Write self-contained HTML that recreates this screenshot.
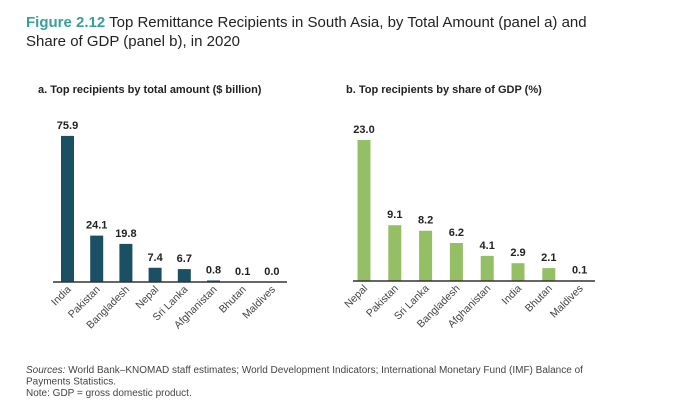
<!DOCTYPE html>
<html><head><meta charset="utf-8"><style>
body{margin:0;background:#fff;}
svg{display:block;font-family:"Liberation Sans",sans-serif;}
</style></head><body>
<svg width="690" height="411" viewBox="0 0 690 411">
<text x="26" y="27" font-size="15" fill="#222"><tspan font-weight="bold" fill="#3a9f9a">Figure 2.12</tspan> Top Remittance Recipients in South Asia, by Total Amount (panel a) and</text>
<text x="26" y="46" font-size="15" fill="#222">Share of GDP (panel b), in 2020</text>
<text x="38" y="93" font-size="11" font-weight="bold" fill="#222">a. Top recipients by total amount ($ billion)</text>
<text x="346" y="93" font-size="11" font-weight="bold" fill="#222">b. Top recipients by share of GDP (%)</text>
<g id="pa"></g>
<g id="pb"></g>
<text x="26" y="373" font-size="10" fill="#444"><tspan font-style="italic">Sources:</tspan> World Bank–KNOMAD staff estimates; World Development Indicators; International Monetary Fund (IMF) Balance of</text>
<text x="26" y="384.5" font-size="10" fill="#444">Payments Statistics.</text>
<text x="26" y="396" font-size="10" fill="#444">Note: GDP = gross domestic product.</text>
</svg>
<script>
const catsA=["India","Pakistan","Bangladesh","Nepal","Sri Lanka","Afghanistan","Bhutan","Maldives"];
const valsA=[75.9,24.1,19.8,7.4,6.7,0.8,0.1,0.0];
const labelsA=["75.9","24.1","19.8","7.4","6.7","0.8","0.1","0.0"];
const catsB=["Nepal","Pakistan","Sri Lanka","Bangladesh","Afghanistan","India","Bhutan","Maldives"];
const valsB=[23.0,9.1,8.2,6.2,4.1,2.9,2.1,0.1];
const labelsB=["23.0","9.1","8.2","6.2","4.1","2.9","2.1","0.1"];
const NS="http://www.w3.org/2000/svg";
function mk(t,a){const e=document.createElementNS(NS,t);for(const k in a)e.setAttribute(k,a[k]);return e;}
function draw(gid,cats,vals,labels,cfg,pfx){
  const g=document.getElementById(gid);
  const y=v=>cfg.base-v*cfg.scale;
  const x=i=>cfg.x0+i*cfg.step;
  cats.forEach((c,i)=>{
    const h=Math.max(cfg.base-y(vals[i]),0);
    const r=mk("rect",{x:x(i)-6.5,y:cfg.base-h,width:13,height:h,fill:cfg.color});
    
    
    g.appendChild(r);
    const t=mk("text",{x:x(i),y:y(vals[i])-7,"text-anchor":"middle","font-size":"11","font-weight":"bold",fill:"#222"});
    t.textContent=labels[i];
    
    
    g.appendChild(t);
    const lx=x(i)+4, ly=cfg.base+8;
    const l=mk("text",{x:lx,y:ly,"text-anchor":"end","font-size":"10.5",fill:"#444",transform:`rotate(-45 ${lx} ${ly})`});
    l.textContent=c;
    
    
    g.appendChild(l);
  });
  const ax=mk("line",{x1:cfg.ax1,x2:cfg.ax2,y1:cfg.base,y2:cfg.base,stroke:"#333","stroke-width":"1.5"});
  
  
  g.appendChild(ax);
}
draw("pa",catsA,valsA,labelsA,{base:282,scale:1.925,x0:67.5,step:29.2,color:"#1b4f63",ax1:53,ax2:287},"panel-a");
draw("pb",catsB,valsB,labelsB,{base:281,scale:6.13,x0:364,step:30.8,color:"#95bf65",ax1:353,ax2:595},"panel-b");
</script>
</body></html>
